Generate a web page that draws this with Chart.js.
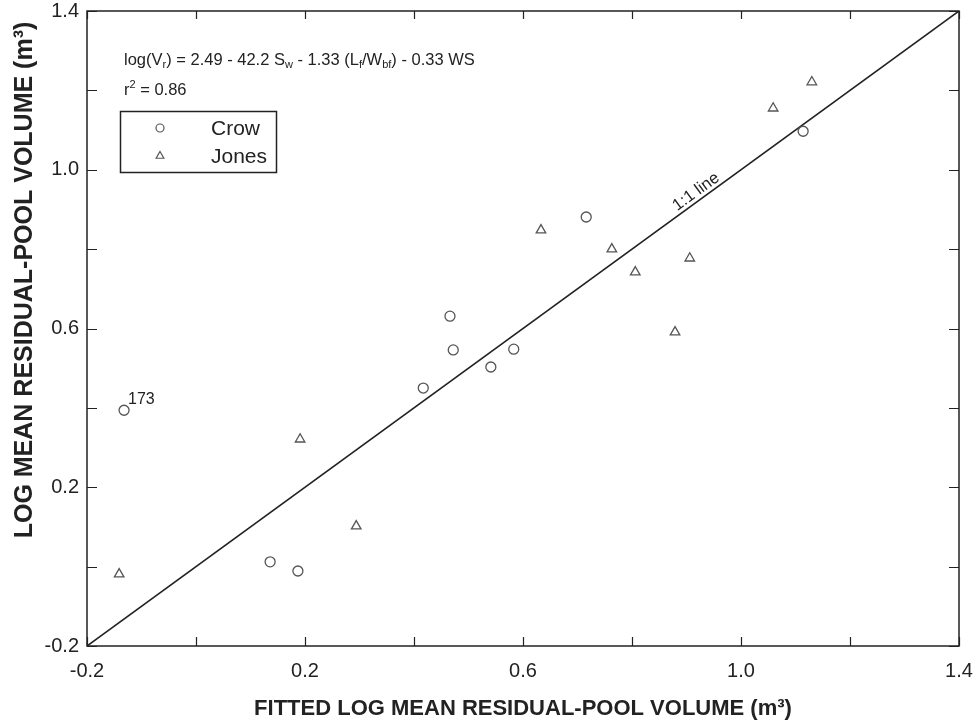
<!DOCTYPE html>
<html>
<head>
<meta charset="utf-8">
<script src="https://cdn.jsdelivr.net/npm/chart.js@4.4.0/dist/chart.umd.min.js"></script>
<style>
	body { margin: 0; background: #fff; }
	#wrap { width: 975px; height: 722px; }
</style>
</head>
<body>
<div id="wrap"><canvas id="graph" width="975" height="722"></canvas></div>
<script>
// values
var crowX = [-0.132, 0.136, 0.187, 0.417, 0.466, 0.472, 0.541, 0.583, 0.716, 1.114]
var crowY = [0.394, 0.012, -0.011, 0.450, 0.631, 0.546, 0.503, 0.548, 0.881, 1.097]
var jonesX = [-0.141, 0.191, 0.294, 0.633, 0.763, 0.806, 0.879, 0.906, 1.059, 1.130]
var jonesY = [-0.019, 0.321, 0.102, 0.848, 0.800, 0.742, 0.591, 0.777, 1.155, 1.221]
var lineX = [-0.2, 1.4]
var lineY = [-0.2, 1.4]
var xTickLabels = ["-0.2", "0.2", "0.6", "1.0", "1.4"]
var yTickLabels = ["-0.2", "0.2", "0.6", "1.0", "1.4"]
var pointNote = "173"
var lineNote = "1:1 line"

var FONT = "'Liberation Sans', Arial, Helvetica, sans-serif"
var INK = "#222"

function toPoints(xs, ys) {
	var pts = []
	for (var i = 0; i < xs.length; i++) pts.push({x: xs[i], y: ys[i]})
	return pts
}

function tickCallback(labels) {
	return function(value) {
		for (var i = 0; i < labels.length; i++) {
			if (Math.abs(parseFloat(labels[i]) - value) < 1e-6) return labels[i]
		}
		return ""
	}
}

// frame, inward ticks, legend and the text notes
var decor = {
	id: "decor",
	afterDatasetsDraw: function(chart) {
		var ctx = chart.ctx
		var a = chart.chartArea
		var sx = chart.scales.x, sy = chart.scales.y
		ctx.save()
		ctx.strokeStyle = INK
		ctx.lineWidth = 1.5
		ctx.strokeRect(a.left, a.top, a.right - a.left, a.bottom - a.top)
		ctx.lineWidth = 1.2
		ctx.beginPath()
		sx.ticks.forEach(function(t) {
			var px = Math.round(sx.getPixelForValue(t.value)) + 0.5
			ctx.moveTo(px, a.bottom); ctx.lineTo(px, a.bottom - 9)
			ctx.moveTo(px, a.top); ctx.lineTo(px, a.top + 8)
		})
		sy.ticks.forEach(function(t) {
			var py = Math.round(sy.getPixelForValue(t.value)) + 0.5
			ctx.moveTo(a.left, py); ctx.lineTo(a.left + 10, py)
			ctx.moveTo(a.right, py); ctx.lineTo(a.right - 10, py)
		})
		ctx.stroke()

		// y title
		ctx.fillStyle = INK
		ctx.font = "bold 25px " + FONT
		ctx.textAlign = "center"
		ctx.textBaseline = "middle"
		ctx.translate(25, 280)
		ctx.rotate(-Math.PI / 2)
		ctx.fillText("LOG MEAN RESIDUAL-POOL VOLUME (m\u00b3)", 0, 0)
		ctx.restore()

		// equation
		ctx.save()
		ctx.fillStyle = INK
		ctx.textBaseline = "alphabetic"
		var parts = [["log(V", 0], ["r", 1], [") = 2.49 - 42.2 S", 0], ["w", 1], [" - 1.33 (L", 0], ["f", 1], ["/W", 0], ["bf", 1], [") - 0.33 WS", 0]]
		var x = 124
		parts.forEach(function(p) {
			ctx.font = (p[1] ? "11px " : "16.5px ") + FONT
			ctx.fillText(p[0], x, p[1] ? 68 : 65)
			x += ctx.measureText(p[0]).width
		})
		x = 124
		ctx.font = "16.5px " + FONT
		ctx.fillText("r", x, 95); x += ctx.measureText("r").width
		ctx.font = "11px " + FONT
		ctx.fillText("2", x, 88); x += ctx.measureText("2").width
		ctx.font = "16.5px " + FONT
		ctx.fillText(" = 0.86", x, 95)

		// legend
		ctx.strokeStyle = INK
		ctx.lineWidth = 1.5
		ctx.strokeRect(120.5, 111.5, 156, 61)
		ctx.font = "21px " + FONT
		ctx.textBaseline = "middle"
		ctx.textAlign = "left"
		chart.data.datasets.slice(0, 2).forEach(function(ds, i) {
			var cy = 128 + i * 28
			ctx.strokeStyle = ds.borderColor
			ctx.lineWidth = 1.2
			ctx.beginPath()
			if (ds.pointStyle === "triangle") {
				var r = 4.5
				ctx.moveTo(160, cy - r)
				ctx.lineTo(160 + r * 0.866, cy + r / 2)
				ctx.lineTo(160 - r * 0.866, cy + r / 2)
				ctx.closePath()
			} else {
				ctx.arc(160, cy, 4, 0, Math.PI * 2)
			}
			ctx.stroke()
			ctx.fillStyle = INK
			ctx.fillText(ds.label, 211, cy + 1)
		})

		// note next to the first Crow point
		var p0 = chart.getDatasetMeta(0).data[0]
		ctx.font = "16px " + FONT
		ctx.textAlign = "left"
		ctx.fillText(pointNote, p0.x + 4, p0.y - 11)

		// 1:1 line label
		var vx = 0.927
		var lx = sx.getPixelForValue(vx), ly = sy.getPixelForValue(vx)
		var ang = Math.atan2(sy.getPixelForValue(1.4) - sy.getPixelForValue(-0.2), sx.getPixelForValue(1.4) - sx.getPixelForValue(-0.2))
		ctx.translate(lx, ly)
		ctx.rotate(ang)
		ctx.font = "16.5px " + FONT
		ctx.textAlign = "center"
		ctx.textBaseline = "alphabetic"
		ctx.fillText(lineNote, 0, -4)
		ctx.restore()
	}
}

var ctx = document.getElementById("graph").getContext("2d")
var chart = new Chart(ctx, {
	type: "scatter",
	data: {
		datasets: [{
			label: "Crow",
			data: toPoints(crowX, crowY),
			pointStyle: "circle",
			pointRadius: 5,
			borderColor: "#555",
			backgroundColor: "rgba(0,0,0,0)",
			borderWidth: 1.3
		}, {
			label: "Jones",
			data: toPoints(jonesX, jonesY),
			pointStyle: "triangle",
			pointRadius: 5.5,
			borderColor: "#555",
			backgroundColor: "rgba(0,0,0,0)",
			borderWidth: 1.3
		}, {
			type: "line",
			label: "1:1",
			data: toPoints(lineX, lineY),
			borderColor: INK,
			borderWidth: 1.6,
			pointRadius: 0,
			fill: false
		}]
	},
	options: {
		responsive: false,
		animation: false,
		layout: { padding: { top: 11, right: 16, left: 0, bottom: 0 } },
		plugins: { legend: { display: false }, tooltip: { enabled: false } },
		scales: {
			x: {
				type: "linear",
				min: -0.2, max: 1.4,
				afterFit: function(s) { s.height = 76; s.paddingLeft = 0; s.paddingRight = 0 },
				grid: { display: false, drawTicks: false },
				border: { display: false },
				ticks: { stepSize: 0.2, autoSkip: false, maxRotation: 0, padding: 13, color: INK,
					font: { family: FONT, size: 20 }, callback: tickCallback(xTickLabels) },
				title: { display: true, text: "FITTED LOG MEAN RESIDUAL-POOL VOLUME (m\u00b3)", color: INK,
					padding: 0, font: { family: FONT, size: 22, weight: "bold" } }
			},
			y: {
				type: "linear",
				min: -0.2, max: 1.4,
				afterFit: function(s) { s.width = 87; s.paddingTop = 0; s.paddingBottom = 0 },
				grid: { display: false, drawTicks: false },
				border: { display: false },
				ticks: { stepSize: 0.2, autoSkip: false, padding: 8, color: INK,
					font: { family: FONT, size: 20 }, callback: tickCallback(yTickLabels) }
			}
		}
	},
	plugins: [decor]
})
</script>
</body>
</html>
